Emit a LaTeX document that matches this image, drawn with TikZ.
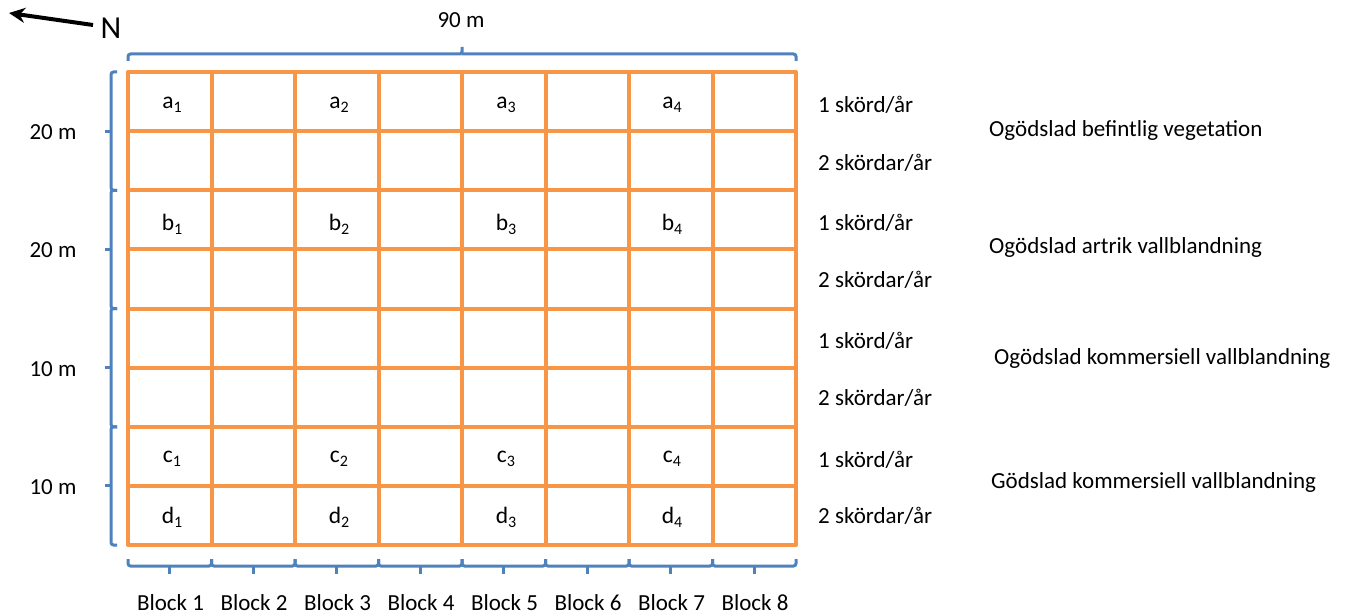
\documentclass[tikz,border=0pt]{standalone}
\usepackage{fontspec}
\setmainfont{Carlito}
\usetikzlibrary{arrows.meta}
\definecolor{plotorange}{RGB}{247,150,70}
\definecolor{braceblue}{RGB}{79,129,189}
\tikzset{
  grid/.style={draw=plotorange,line width=4pt},
  brace/.style={draw=braceblue,line width=3pt,rounded corners=2.5pt},
  lbl/.style={font=\fontsize{23}{27}\selectfont,inner sep=0pt},
  cell/.style={font=\fontsize{23.5}{27}\selectfont,inner sep=0pt},
}
\newcommand{\cellsub}[1]{\raisebox{-0.35ex}{\fontsize{16}{16}\selectfont #1}}
\begin{document}
\begin{tikzpicture}[x=1pt,y=-1pt]
\useasboundingbox (0,0) rectangle (1345,615);
% grid
\foreach \x in {128,211.5,295,378.5,462,545.5,629,712.5,796}
  \draw[grid] (\x,72) -- (\x,545);
\foreach \y in {72,131.1,190.3,249.4,308.5,367.6,426.8,485.9,545}
  \draw[grid] (128,\y) -- (796,\y);
\draw[grid,line join=round] (128,72) rectangle (796,545);
% top brace
\draw[brace] (128,61) -- (128,54) -- (459,54) -- (462,54) -- (462,47) (462,54) -- (796,54) -- (796,61);
% left braces
\foreach \a/\m/\b in {72/131.1/190.3,190.3/249.4/308.5,308.5/367.6/426.8,426.8/485.9/545}{
  \draw[brace] (117,\a) -- (111,\a) -- (111,\b) -- (117,\b);
  \draw[draw=braceblue,line width=3pt] (111,\m) -- (105,\m);
}
% bottom braces
\foreach \a/\m/\b in {128/169.75/211.5,211.5/253.25/295,295/336.75/378.5,378.5/420.25/462,462/503.75/545.5,545.5/587.25/629,629/670.75/712.5,712.5/754.25/796}{
  \draw[brace] (\a,559) -- (\a,566) -- (\b,566) -- (\b,559);
  \draw[draw=braceblue,line width=3pt] (\m,566) -- (\m,574);
}
% north arrow
\node[font=\fontsize{32}{36}\selectfont,inner sep=0pt] (N) at (111,28) {N};
\coordinate (Ntip) at (9,13);
\draw[line width=4pt,-{Stealth[length=16pt,width=15pt]}] (93,25) -- (Ntip);
% dimension labels
\node[lbl] (w) at (461,20) {90 m};
\node[lbl] (h1) at (53,132) {20 m};
\node[lbl] (h2) at (53,250) {20 m};
\node[lbl] (h3) at (53,369) {10 m};
\node[lbl] (h4) at (53,487) {10 m};
% block labels
\foreach \c [count=\i] in {170.5,254,337.5,421,504.5,588,671.5,755}
  \node[lbl] (blk\i) at (\c,602.5) {Block \i};
% cell labels
\foreach \c [count=\i] in {172,339,506,672}{
  \node[cell] (a\i) at (\c,105) {a\cellsub{\i}};
  \node[cell] (b\i) at (\c,224) {b\cellsub{\i}};
  \node[cell] (c\i) at (\c,459) {c\cellsub{\i}};
  \node[cell] (d\i) at (\c,517) {d\cellsub{\i}};
}
% harvest labels
\foreach \y [count=\i] in {105,223,341,460}{
  \node[lbl,anchor=west] (one\i) at (818,\y) {1 skörd/år};
}
\foreach \y [count=\i] in {163,280,398,516}{
  \node[lbl,anchor=west] (two\i) at (818,\y) {2 skördar/år};
}
% treatment labels
\node[lbl,anchor=west] (t1) at (989,130) {Ogödslad befintlig vegetation};
\node[lbl,anchor=west] (t2) at (989,247) {Ogödslad artrik vallblandning};
\node[lbl,anchor=west] (t3) at (994,358) {Ogödslad kommersiell vallblandning};
\node[lbl,anchor=west] (t4) at (991,482) {Gödslad kommersiell vallblandning};
\end{tikzpicture}
\end{document}
